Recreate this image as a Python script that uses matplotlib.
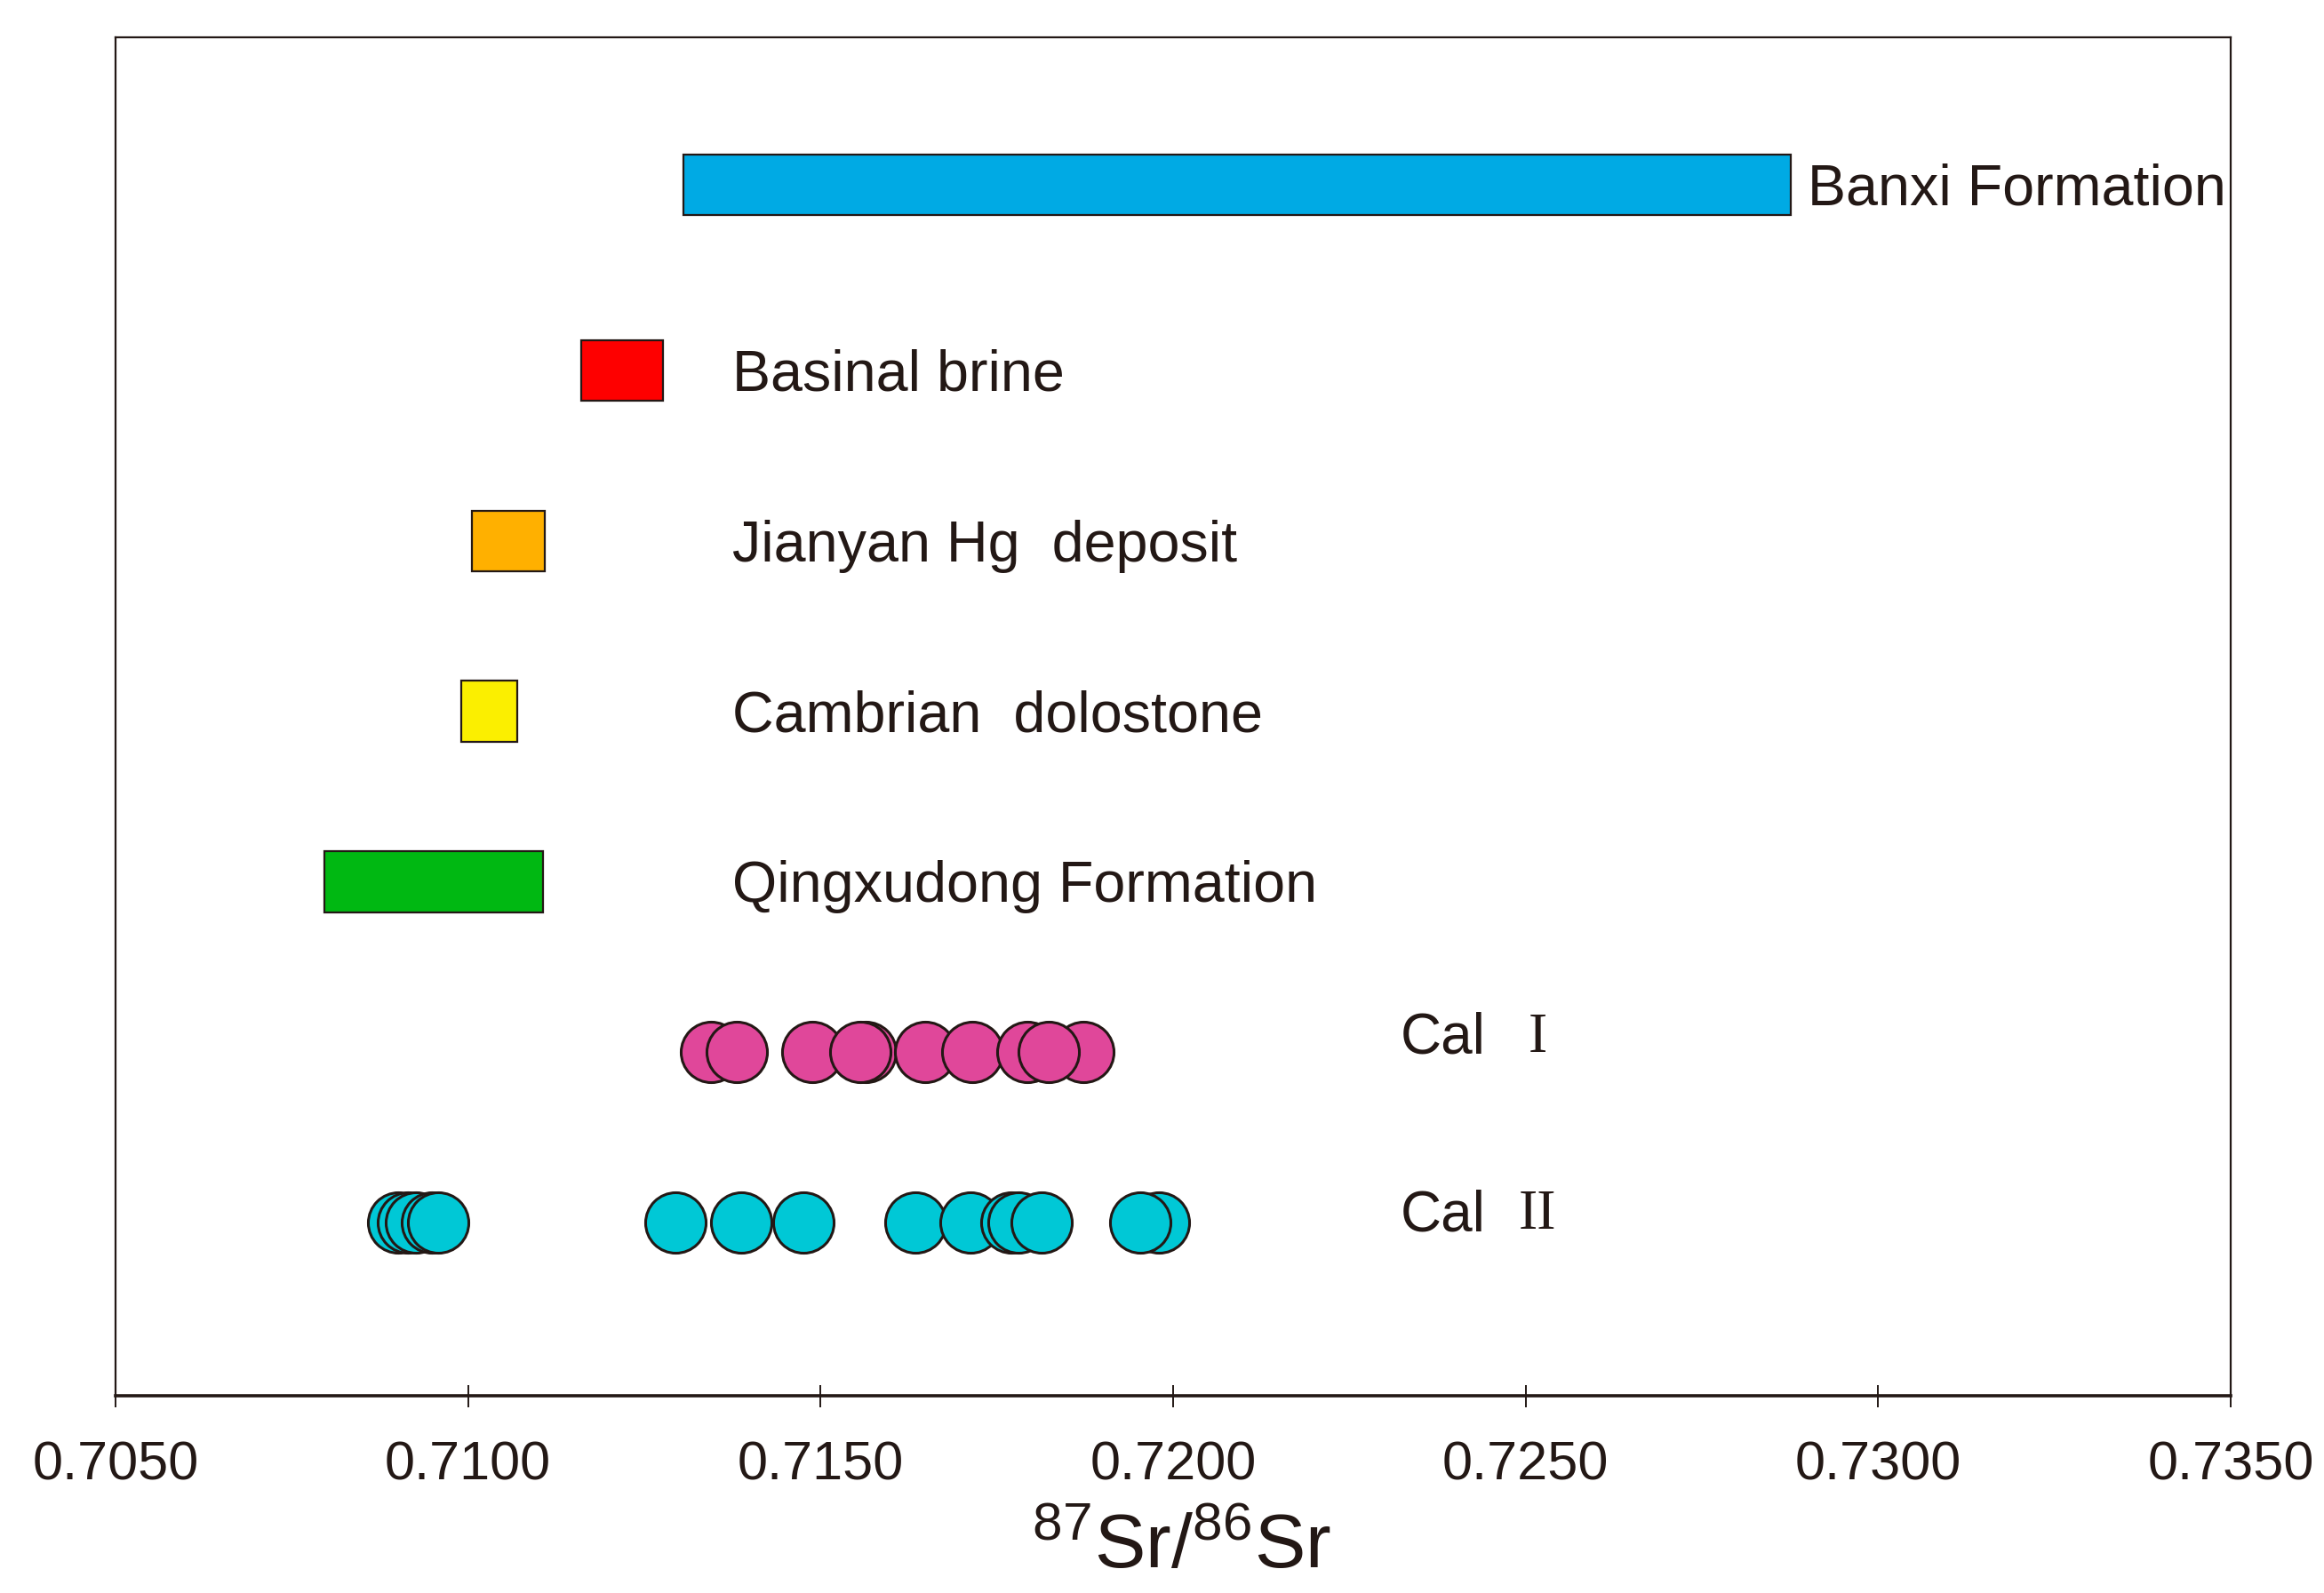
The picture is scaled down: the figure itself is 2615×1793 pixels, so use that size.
import matplotlib.pyplot as plt

plt.rcParams['font.family'] = ['Liberation Sans', 'DejaVu Sans']
plt.rcParams['mathtext.fontset'] = 'custom'
plt.rcParams['mathtext.rm'] = 'Liberation Sans'
plt.rcParams['mathtext.it'] = 'Liberation Sans'

# 87Sr/86Sr ranges of the reference reservoirs
range_names = ["Banxi Formation", "Basinal brine", "Jianyan Hg  deposit",
               "Cambrian  dolostone", "Qingxudong Formation"]
range_low = [0.71306, 0.71161, 0.71005, 0.70990, 0.70796]
range_high = [0.72876, 0.71276, 0.71109, 0.71070, 0.71106]

# calcite samples
cal1_sr = [0.71345, 0.71381, 0.71488, 0.71564, 0.71556, 0.71649, 0.71715,
           0.71793, 0.71873, 0.71824]
cal2_sr = [0.70901, 0.70915, 0.70926, 0.70949, 0.70958, 0.71294, 0.71387,
           0.71476, 0.71635, 0.71713, 0.71771, 0.71781, 0.71814, 0.71980,
           0.71953]
cal_names = ["I", "II"]

x_ticks = [0.7050, 0.7100, 0.7150, 0.7200, 0.7250, 0.7300, 0.7350]

# layout / style
range_colors = ["#00aae4", "#fe0000", "#ffb000", "#fbef00", "#00b812"]
range_rows = [6.09, 5, 4, 3, 2]
cal_rows = [1, 0]
cal_dy = [0.08, 0.04]
cal_colors = ["#e0479a", "#00c8d6"]
ink = "#231815"

fig = plt.figure(figsize=(26.15, 17.93), dpi=100)
ax = fig.add_axes([0.0497, 0.1238, 0.9101, 0.8529])

for i, name in enumerate(range_names):
    ax.barh(range_rows[i], range_high[i] - range_low[i], left=range_low[i],
            height=0.357, color=range_colors[i], edgecolor=ink, linewidth=1.6,
            zorder=2)
    if i == 0:
        tx = range_high[i] + 0.00024
    else:
        tx = 0.71375
    ax.text(tx, range_rows[i] - 0.03, name, fontsize=46.5, color=ink,
            va='center', ha='left')

for vals, row, dy, col, lab in zip([cal1_sr, cal2_sr], cal_rows, cal_dy,
                                   cal_colors, cal_names):
    ax.scatter(vals, [row] * len(vals), s=49 ** 2, color=col, edgecolor=ink,
               linewidth=2.2, zorder=3)
    ax.text(0.72322, row + dy, "Cal", fontsize=46, color=ink,
            va='center', ha='left')
    ax.text(0.72517, row + dy, lab, fontsize=46, color=ink,
            va='center', ha='center', family='Liberation Serif')

ax.set_xlim(0.7050, 0.7350)
ax.set_ylim(-1.017, 6.957)
ax.set_yticks([])
ax.set_xticks(x_ticks)
ax.set_xticklabels([f"{t:.4f}" for t in x_ticks])
ax.tick_params(axis='x', direction='inout', length=18, width=1.4, colors=ink,
               labelsize=44, pad=27)
for sp in ax.spines.values():
    sp.set_linewidth(1.6)
    sp.set_color(ink)
ax.spines['bottom'].set_linewidth(2.6)

fig.text(0.5083, 0.0156, r"$^{87}$Sr/$^{86}$Sr", fontsize=62, color=ink,
         ha='center', va='baseline')

fig.savefig("out.png", dpi=100, facecolor='white')
